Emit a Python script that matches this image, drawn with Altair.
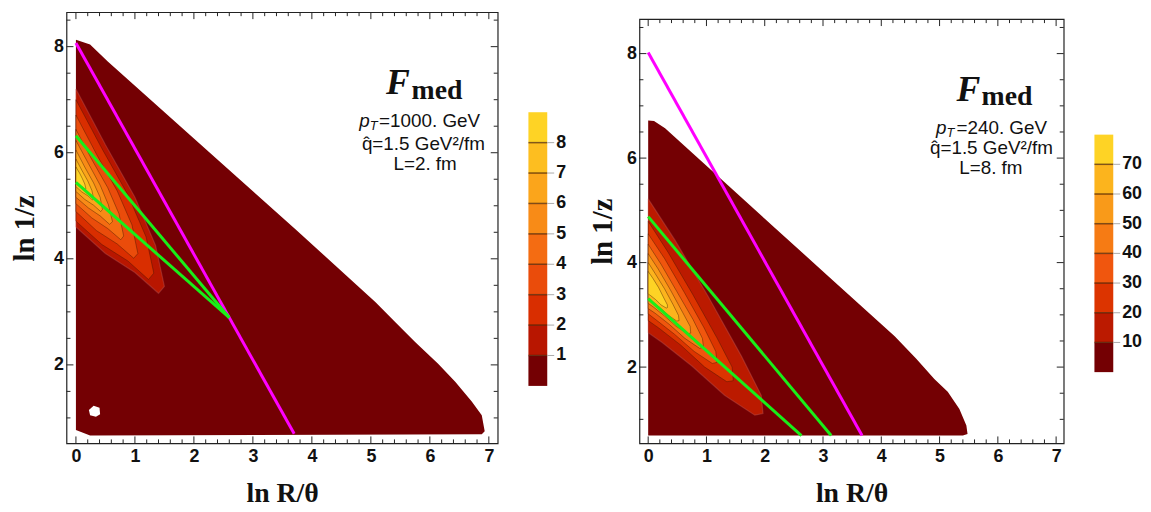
import altair as alt
import pandas as pd

# ---------------- shared tick values ----------------
X_MAJOR = [0, 1, 2, 3, 4, 5, 6, 7]
X_MINOR = [round(i * 0.2, 1) for i in range(36) if i % 5]
Y_MAJOR = [2, 4, 6, 8]
Y_MINOR = [1, 1.5, 2.5, 3, 3.5, 4.5, 5, 5.5, 6.5, 7, 7.5, 8.5]

# ---------------- left panel (pT=1000 GeV, L=2 fm) ----------------
L_OUTER_X = [0.0, 0.24, 0.54, 2.0, 3.74, 5.08, 5.42, 5.75, 6.14, 6.43, 6.71, 6.88, 6.93, 6.88, 0.24, 0.0]
L_OUTER_Y = [8.13, 8.04, 7.72, 6.27, 4.54, 3.18, 2.80, 2.43, 2.02, 1.68, 1.31, 1.05, 0.75, 0.69, 0.67, 0.77]
L_HOLE_X = [0.22, 0.30, 0.40, 0.41, 0.34, 0.24]
L_HOLE_Y = [1.15, 1.23, 1.19, 1.07, 1.02, 1.05]
L_LEVEL_X = [
    [0, 0.50, 1.00, 1.35, 1.50, 1.40, 1.00, 0.50, 0],
    [0, 0.44, 0.88, 1.19, 1.32, 1.23, 0.88, 0.44, 0],
    [0, 0.35, 0.70, 0.95, 1.05, 0.98, 0.70, 0.35, 0],
    [0, 0.27, 0.54, 0.73, 0.81, 0.76, 0.54, 0.27, 0],
    [0, 0.21, 0.41, 0.55, 0.62, 0.57, 0.41, 0.21, 0],
    [0, 0.15, 0.30, 0.41, 0.45, 0.42, 0.30, 0.15, 0],
    [0, 0.10, 0.20, 0.27, 0.30, 0.28, 0.20, 0.10, 0],
    [0, 0.06, 0.11, 0.15, 0.17, 0.15, 0.11, 0.06, 0],
]
L_LEVEL_Y = [
    [7.20, 6.15, 5.16, 4.25, 3.48, 3.35, 3.74, 4.10, 4.60],
    [7.00, 6.08, 5.21, 4.41, 3.73, 3.61, 3.96, 4.27, 4.71],
    [6.71, 5.97, 5.28, 4.64, 4.10, 4.01, 4.28, 4.53, 4.89],
    [6.44, 5.87, 5.34, 4.85, 4.43, 4.36, 4.57, 4.77, 5.04],
    [6.23, 5.80, 5.39, 5.02, 4.70, 4.65, 4.81, 4.96, 5.16],
    [6.05, 5.73, 5.43, 5.16, 4.93, 4.89, 5.01, 5.12, 5.27],
    [5.88, 5.67, 5.47, 5.29, 5.14, 5.11, 5.19, 5.26, 5.36],
    [5.73, 5.62, 5.51, 5.41, 5.32, 5.31, 5.35, 5.39, 5.45],
]
L_MAGENTA_X = [0.0, 3.70]
L_MAGENTA_Y = [8.07, 0.70]
L_GREEN1_X = [0.0, 2.60]
L_GREEN1_Y = [6.32, 2.89]
L_GREEN2_X = [0.0, 2.60]
L_GREEN2_Y = [5.44, 2.89]
L_ANNOT_TEXT = ["F", "med", "p", "T", "=1000. GeV", "q\u0302=1.5 GeV\u00b2/fm", "L=2. fm"]
L_ANNOT_X = [5.66, 5.69, 4.98, 4.98, 5.14, 5.89, 5.92]
L_ANNOT_Y = [7.10, 7.01, 6.49, 6.43, 6.49, 6.06, 5.68]
L_CB_LEVELS = [0, 1, 2, 3, 4, 5, 6, 7, 8, 9]
L_CB_TICKS = [1, 2, 3, 4, 5, 6, 7, 8]

# ---------------- right panel (pT=240 GeV, L=8 fm) ----------------
R_OUTER_X = [0.0, 0.10, 0.29, 1.17, 2.19, 3.10, 4.23, 4.60, 4.91, 5.14, 5.34, 5.46, 5.48, 5.40, 0.0]
R_OUTER_Y = [6.72, 6.71, 6.57, 5.68, 4.65, 3.73, 2.59, 2.16, 1.77, 1.53, 1.20, 0.88, 0.72, 0.69, 0.69]
R_LEVEL_X = [
    [0, 0.46, 1.03, 1.60, 1.94, 1.97, 1.83, 1.31, 0.75, 0.24, 0],
    [0, 0.34, 0.76, 1.18, 1.44, 1.46, 1.35, 0.97, 0.56, 0.18, 0],
    [0, 0.28, 0.62, 0.96, 1.16, 1.18, 1.10, 0.79, 0.45, 0.14, 0],
    [0, 0.22, 0.49, 0.77, 0.93, 0.95, 0.88, 0.63, 0.36, 0.12, 0],
    [0, 0.17, 0.38, 0.59, 0.72, 0.73, 0.68, 0.48, 0.28, 0.09, 0],
    [0, 0.12, 0.28, 0.43, 0.52, 0.53, 0.49, 0.35, 0.20, 0.06, 0],
    [0, 0.08, 0.18, 0.27, 0.33, 0.33, 0.31, 0.22, 0.13, 0.04, 0],
]
R_LEVEL_Y = [
    [5.22, 4.43, 3.35, 2.21, 1.46, 1.11, 1.08, 1.46, 2.02, 2.47, 2.66],
    [4.79, 4.20, 3.40, 2.56, 2.00, 1.74, 1.72, 2.00, 2.42, 2.75, 2.89],
    [4.55, 4.08, 3.43, 2.75, 2.30, 2.09, 2.07, 2.30, 2.63, 2.90, 3.02],
    [4.35, 3.97, 3.45, 2.91, 2.55, 2.38, 2.36, 2.55, 2.82, 3.03, 3.12],
    [4.17, 3.88, 3.48, 3.05, 2.78, 2.65, 2.64, 2.78, 2.98, 3.15, 3.22],
    [4.00, 3.79, 3.50, 3.19, 2.99, 2.89, 2.88, 2.99, 3.14, 3.26, 3.31],
    [3.83, 3.70, 3.52, 3.32, 3.19, 3.14, 3.13, 3.19, 3.29, 3.37, 3.40],
]
R_MAGENTA_X = [0.0, 3.67]
R_MAGENTA_Y = [8.02, 0.69]
R_GREEN1_X = [0.0, 3.14]
R_GREEN1_Y = [4.88, 0.69]
R_GREEN2_X = [0.0, 2.63]
R_GREEN2_Y = [3.31, 0.69]
R_ANNOT_TEXT = ["F", "med", "p", "T", "=240. GeV", "q\u0302=1.5 GeV\u00b2/fm", "L=8. fm"]
R_ANNOT_X = [5.70, 5.72, 5.12, 5.12, 5.29, 5.89, 5.88]
R_ANNOT_Y = [7.09, 7.01, 6.47, 6.41, 6.47, 6.07, 5.69]
R_CB_LEVELS = [0, 10, 20, 30, 40, 50, 60, 70, 80]
R_CB_TICKS = [10, 20, 30, 40, 50, 60, 70]

# ---------------- styles ----------------
L_PALETTE = ["#740003", "#b81600", "#d92e00", "#ea4c0b", "#f46c12", "#f88b17", "#fba51b", "#fdbe20", "#fed325"]
R_PALETTE = ["#740003", "#bb1a00", "#dc3400", "#f0560e", "#f67b14", "#f99a19", "#fcb41d", "#fed325"]
SANS = "Liberation Sans"
SERIF = "Liberation Serif"
INK = "#111"
ANNOT_STYLE = [
    dict(font=SERIF, fontSize=36, fontWeight="bold", fontStyle="italic", align="right"),
    dict(font=SERIF, fontSize=28, fontWeight="bold", align="left"),
    dict(font=SANS, fontSize=19, fontStyle="italic", align="right"),
    dict(font=SANS, fontSize=13, fontStyle="italic", align="left"),
    dict(font=SANS, fontSize=19, align="left"),
    dict(font=SANS, fontSize=19, align="center"),
    dict(font=SANS, fontSize=19, align="center"),
]


def label_axis_x():
    return alt.Axis(orient="bottom", values=X_MAJOR, ticks=False, tickSize=0, domain=False,
                    grid=False, labelFont=SANS, labelFontWeight="bold", labelFontSize=18,
                    labelColor=INK, labelPadding=4, format="d",
                    title="ln R/\u03b8", titleFont=SERIF, titleFontSize=28,
                    titleFontWeight="bold", titleColor=INK, titlePadding=15)


def label_axis_y(tpad):
    return alt.Axis(orient="left", values=Y_MAJOR, ticks=False, tickSize=0, domain=False,
                    grid=False, labelFont=SANS, labelFontWeight="bold", labelFontSize=18,
                    labelColor=INK, labelPadding=3, format="d",
                    title="ln 1/z", titleFont=SERIF, titleFontSize=29,
                    titleFontWeight="bold", titleColor=INK, titlePadding=tpad)


def tick_layers(xs, ys, xa, ya, W, H):
    out = []
    for vals, ln in ((X_MAJOR, 7), (X_MINOR, 4)):
        base = alt.Chart(pd.DataFrame({"v": vals})).mark_rule(color="#222", strokeWidth=1)
        xe = alt.X("v:Q", scale=xs, axis=xa)
        out.append(base.encode(x=xe, y=alt.value(H), y2=alt.value(H - ln)))
        out.append(base.encode(x=xe, y=alt.value(0), y2=alt.value(ln)))
    for vals, ln in ((Y_MAJOR, 7), (Y_MINOR, 4)):
        base = alt.Chart(pd.DataFrame({"v": vals})).mark_rule(color="#222", strokeWidth=1)
        ye = alt.Y("v:Q", scale=ys, axis=ya)
        out.append(base.encode(y=ye, x=alt.value(0), x2=alt.value(ln)))
        out.append(base.encode(y=ye, x=alt.value(W), x2=alt.value(W - ln)))
    return out


def panel(outer_x, outer_y, hole, lev_x, lev_y, palette, lines, annot, xdom, ydom, size, tpad):
    xs = alt.Scale(domain=xdom, nice=False, zero=False)
    ys = alt.Scale(domain=ydom, nice=False, zero=False)
    xa = label_axis_x()
    ya = label_axis_y(tpad)
    polys = [(outer_x, outer_y, palette[0], dict(strokeOpacity=0))]
    if hole:
        polys.append((hole[0], hole[1], "white", dict(strokeOpacity=0)))
    for k, (px, py) in enumerate(zip(lev_x, lev_y)):
        st = dict(stroke="#3a1500", strokeOpacity=0.45, strokeWidth=0.9)
        if k == 0:
            st = dict(stroke="#c06060", strokeOpacity=0.35, strokeWidth=1.2)
        polys.append((px, py, palette[k + 1], st))

    layers = []
    for px, py, fill, st in polys:
        df = pd.DataFrame({"x": list(px) + [px[0]], "y": list(py) + [py[0]],
                           "i": list(range(len(px) + 1))})
        kw = dict(fill=fill, interpolate="linear")
        kw.update(st)
        if "stroke" not in kw:
            kw["stroke"] = fill
        layers.append(
            alt.Chart(df).mark_line(**kw).encode(
                x=alt.X("x:Q", scale=xs, axis=xa),
                y=alt.Y("y:Q", scale=ys, axis=ya),
                order=alt.Order("i:Q"),
            )
        )
    for lx, ly, col in lines:
        df = pd.DataFrame({"x": lx, "y": ly})
        layers.append(
            alt.Chart(df).mark_line(color=col, strokeWidth=3).encode(
                x=alt.X("x:Q", scale=xs, axis=xa),
                y=alt.Y("y:Q", scale=ys, axis=ya),
            )
        )
    tx, ty, tt = annot
    for j, sty in enumerate(ANNOT_STYLE):
        df = pd.DataFrame({"x": [tx[j]], "y": [ty[j]], "t": [tt[j]]})
        layers.append(
            alt.Chart(df).mark_text(baseline="alphabetic", color=INK, **sty).encode(
                x=alt.X("x:Q", scale=xs, axis=xa),
                y=alt.Y("y:Q", scale=ys, axis=ya),
                text="t:N",
            )
        )
    layers += tick_layers(xs, ys, xa, ya, size, size)
    return alt.layer(*layers).properties(
        width=size, height=size,
        view=alt.ViewBackground(stroke="#222", strokeWidth=1.2),
    )


def colorbar(levels, ticks, palette, ydom, h, w=19):
    df = pd.DataFrame({"lo": levels[:-1], "hi": levels[1:], "c": palette[:len(levels) - 1]})
    ys = alt.Scale(domain=ydom, nice=False, zero=False)
    rects = alt.Chart(df).mark_rect().encode(
        x=alt.value(0), x2=alt.value(w),
        y=alt.Y("lo:Q", scale=ys, axis=None),
        y2="hi:Q",
        color=alt.Color("c:N", scale=None, legend=None),
    )
    tdf = pd.DataFrame({"b": ticks, "lab": [str(t) for t in ticks]})
    seps = alt.Chart(tdf).mark_rule(color="#4a2000", strokeWidth=1.5, opacity=0.7).encode(
        x=alt.value(0), x2=alt.value(w),
        y=alt.Y("b:Q", scale=ys, axis=None),
    )
    tks = alt.Chart(tdf).mark_rule(color="#aaa", strokeWidth=1).encode(
        x=alt.value(w), x2=alt.value(w + 7),
        y=alt.Y("b:Q", scale=ys, axis=None),
    )
    labs = alt.Chart(tdf).mark_text(align="left", baseline="middle", font=SANS, fontSize=18,
                                    fontWeight="bold", color=INK).encode(
        x=alt.value(w + 9),
        y=alt.Y("b:Q", scale=ys, axis=None),
        text="lab:N",
    )
    return alt.layer(rects, seps, tks, labs).properties(
        width=w, height=h, view=alt.ViewBackground(stroke="transparent"))


left = panel(L_OUTER_X, L_OUTER_Y, (L_HOLE_X, L_HOLE_Y), L_LEVEL_X, L_LEVEL_Y, L_PALETTE,
             [(L_MAGENTA_X, L_MAGENTA_Y, "#ff00ff"), (L_GREEN1_X, L_GREEN1_Y, "#19ee19"),
              (L_GREEN2_X, L_GREEN2_Y, "#19ee19")],
             (L_ANNOT_X, L_ANNOT_Y, L_ANNOT_TEXT), [-0.16, 7.15], [0.52, 8.65], 435, 14)

right = panel(R_OUTER_X, R_OUTER_Y, None, R_LEVEL_X, R_LEVEL_Y, R_PALETTE,
              [(R_MAGENTA_X, R_MAGENTA_Y, "#ff00ff"), (R_GREEN1_X, R_GREEN1_Y, "#19ee19"),
               (R_GREEN2_X, R_GREEN2_Y, "#19ee19")],
              (R_ANNOT_X, R_ANNOT_Y, R_ANNOT_TEXT), [-0.15, 7.13], [0.54, 8.66], 428, 9)

spacer = alt.Chart(pd.DataFrame({"v": [0]})).mark_point(opacity=0, size=1).encode(
    x=alt.value(5), y=alt.value(2)).properties(
    width=10, height=4, view=alt.ViewBackground(stroke="transparent"))

cb_left = colorbar(L_CB_LEVELS, L_CB_TICKS, L_PALETTE, [-1.89, 12.29], 435)
cb_right = colorbar(R_CB_LEVELS, R_CB_TICKS, R_PALETTE, [-24.0, 121.25], 435)

chart = alt.hconcat(
    alt.hconcat(left, cb_left, spacing=27),
    alt.hconcat(alt.vconcat(spacer, right, spacing=0), cb_right, spacing=27),
    spacing=21,
).properties(
    padding={"left": 2, "top": 0, "right": 0, "bottom": 0}
).configure(background="white")

chart.save("out.html", embed_options={"renderer": "svg", "actions": False})
